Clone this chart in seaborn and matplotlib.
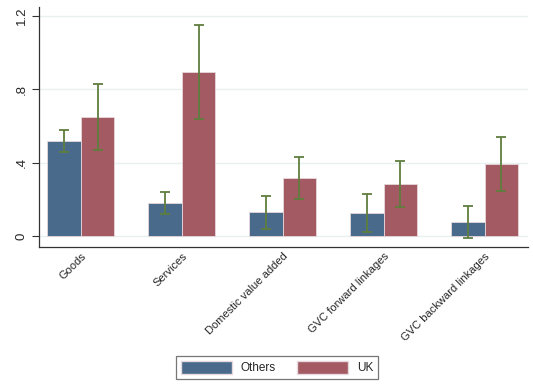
import matplotlib
matplotlib.use("Agg")
import matplotlib.pyplot as plt
import seaborn as sns
import pandas as pd
from matplotlib.patches import Patch

categories = ["Goods", "Services", "Domestic value added",
              "GVC forward linkages", "GVC backward linkages"]
others = [0.519, 0.181, 0.131, 0.125, 0.078]
uk = [0.648, 0.893, 0.318, 0.285, 0.392]
others_lo = [0.46, 0.12, 0.040, 0.022, -0.011]
others_hi = [0.58, 0.243, 0.221, 0.232, 0.167]
uk_lo = [0.468, 0.639, 0.202, 0.160, 0.247]
uk_hi = [0.831, 1.149, 0.434, 0.412, 0.543]

groups = ["Others", "UK"]
colors = ["#4a6a8b", "#a45a62"]
err_color = "#5f7e3e"

df = pd.DataFrame({
    "cat": categories * 2,
    "group": ["Others"] * 5 + ["UK"] * 5,
    "val": others + uk,
    "lo": others_lo + uk_lo,
    "hi": others_hi + uk_hi,
})

sns.set_style("white")
plt.rcParams["font.family"] = ["Liberation Sans", "DejaVu Sans"]

fig = plt.figure(figsize=(5.33, 3.9), dpi=100)
ax = fig.add_axes([0.0726, 0.3667, 0.918, 0.6153])

sns.barplot(data=df, x="cat", y="val", hue="group", order=categories,
            hue_order=groups, palette=colors, width=0.667, saturation=1,
            errorbar=None, edgecolor="#e6d8dc", linewidth=0.6,
            legend=False, ax=ax, zorder=2)

# error bars at the centres of the bars seaborn placed
bars = [p for p in ax.patches if p.get_width() > 0]
for i, g in enumerate(groups):
    sub = df[df.group == g].set_index("cat").loc[categories]
    gbars = bars[i * 5:(i + 1) * 5]
    xs = [b.get_x() + b.get_width() / 2 for b in gbars]
    ax.errorbar(xs, sub["val"], yerr=[sub["val"] - sub["lo"], sub["hi"] - sub["val"]],
                fmt="none", ecolor=err_color, elinewidth=1.3, capsize=3.5,
                capthick=1.3, zorder=3)

ax.set_xlim(-0.416, 4.43)
ax.set_ylim(-0.058, 1.249)
ax.set_yticks([0, 0.4, 0.8, 1.2])
ax.set_yticklabels(["0", ".4", ".8", "1.2"], rotation=90, va="center", fontsize=9.5)
ax.yaxis.grid(True, color="#e8f0f2", linewidth=1)
ax.set_axisbelow(True)
ax.tick_params(axis="y", direction="out", length=5, width=0.8, color="#333333", pad=3, left=True)
ax.tick_params(axis="x", length=0, pad=3)
ax.set_xticks(range(len(categories)))
ax.set_xticklabels(categories, rotation=45, ha="right", va="top",
                   rotation_mode="anchor", fontsize=8)
ax.set_xlabel("")
ax.set_ylabel("")
for s in ["top", "right"]:
    ax.spines[s].set_visible(False)
for s in ["left", "bottom"]:
    ax.spines[s].set_color("#333333")
    ax.spines[s].set_linewidth(0.9)

handles = [Patch(facecolor=c, edgecolor="#e6d8dc", label=g) for c, g in zip(colors, groups)]
leg = fig.legend(handles=handles, loc="center", bbox_to_anchor=(0.52, 0.057), ncol=2,
                 frameon=True, fancybox=False, edgecolor="#555555", fontsize=8.5,
                 handlelength=4.3, handleheight=1.3, columnspacing=1.8, handletextpad=0.76,
                 borderpad=0.42)
leg.get_frame().set_linewidth(0.9)

fig.savefig("out.png", dpi=100)
